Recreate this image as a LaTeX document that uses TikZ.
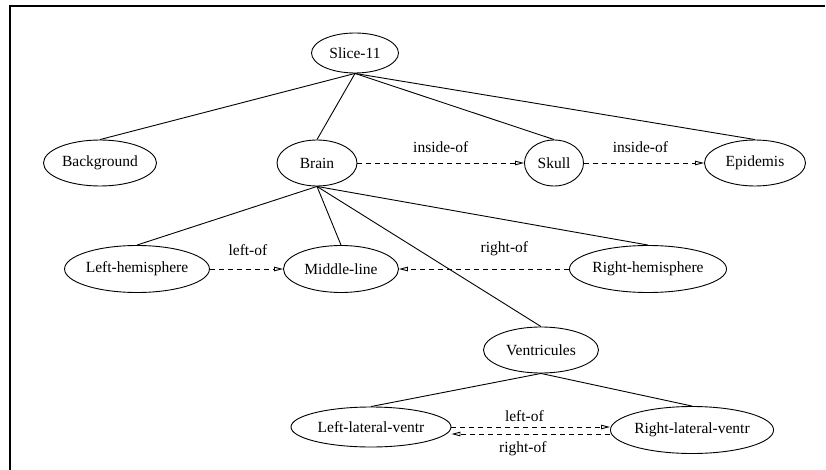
\documentclass[tikz,border=0pt]{standalone}
\usepackage{fontspec}
\setmainfont{Liberation Serif}
\usetikzlibrary{shapes.geometric,arrows.meta}
\begin{document}
\begin{tikzpicture}[x=1pt,y=-1pt,
  every node/.style={font=\fontsize{15.5}{18}\selectfont},
  ell/.style={draw,ellipse,inner sep=0pt,line width=0.9pt},
  tree/.style={line width=0.9pt},
  rel/.style={dashed,dash pattern=on 5pt off 4pt,line width=0.9pt,-{Triangle[open,length=9pt,width=4.5pt]}},
  lab/.style={inner sep=0pt}]
\useasboundingbox (0,0) rectangle (826,470);
\draw[line width=1.3pt] (10,470) -- (10,6) -- (825,6);
\node[ell,minimum width=87pt,minimum height=40pt] (slice) at (355,53) {Slice-11};
\node[ell,minimum width=113pt,minimum height=46pt] (bg) at (100,163) {Background};
\node[ell,minimum width=80pt,minimum height=46pt] (brain) at (317,163) {Brain};
\node[ell,minimum width=59pt,minimum height=46pt] (skull) at (554,163) {Skull};
\node[ell,minimum width=101pt,minimum height=46pt] (epi) at (755,163) {Epidemis};
\node[ell,minimum width=134pt,minimum height=47pt] (lh) at (137,269) {Left-hemisphere};
\node[ell,minimum width=115pt,minimum height=47pt] (ml) at (341,269) {Middle-line};
\node[ell,minimum width=139pt,minimum height=47pt] (rh) at (648,269) {Right-hemisphere};
\node[ell,minimum width=115pt,minimum height=46pt] (ven) at (541,350) {Ventricules};
\node[ell,minimum width=160pt,minimum height=40pt] (llv) at (371,427) {Left-lateral-ventr};
\node[ell,minimum width=160pt,minimum height=47pt] (rlv) at (692,430) {Right-lateral-ventr};
% tree edges
\draw[tree] (slice.south) -- (bg.north);
\draw[tree] (slice.south) -- (brain.north);
\draw[tree] (slice.south) -- (skull.north);
\draw[tree] (slice.south) -- (epi.north);
\draw[tree] (brain.south) -- (lh.north);
\draw[tree] (brain.south) -- (ml.north);
\draw[tree] (brain.south) -- (rh.north);
\draw[tree] (brain.south) -- (ven.north);
\draw[tree] (ven.south) -- (llv.north);
\draw[tree] (ven.south) -- (rlv.north);
% relations
\draw[rel] (brain.east) -- node[lab,pos=0.5,yshift=16pt] {inside-of} (skull.west);
\draw[rel] (skull.east) -- node[lab,pos=0.47,yshift=16pt] {inside-of} (epi.west);
\draw[rel] (lh.east) -- node[lab,pos=0.52,yshift=19pt] {left-of} (ml.west);
\draw[rel] (rh.west) -- node[lab,pos=0.38,yshift=20pt] {right-of} (ml.east);
\coordinate (a1) at ([yshift=0pt]llv.east);
\draw[rel] (a1) -- node[lab,pos=0.46,yshift=11pt] {left-of} (a1 -| rlv.west);
\coordinate (a2) at ([yshift=-4pt]rlv.west);
\draw[rel] (a2) -- node[lab,pos=0.55,yshift=-15pt] {right-of} (a2 -| llv.east);
\end{tikzpicture}
\end{document}
